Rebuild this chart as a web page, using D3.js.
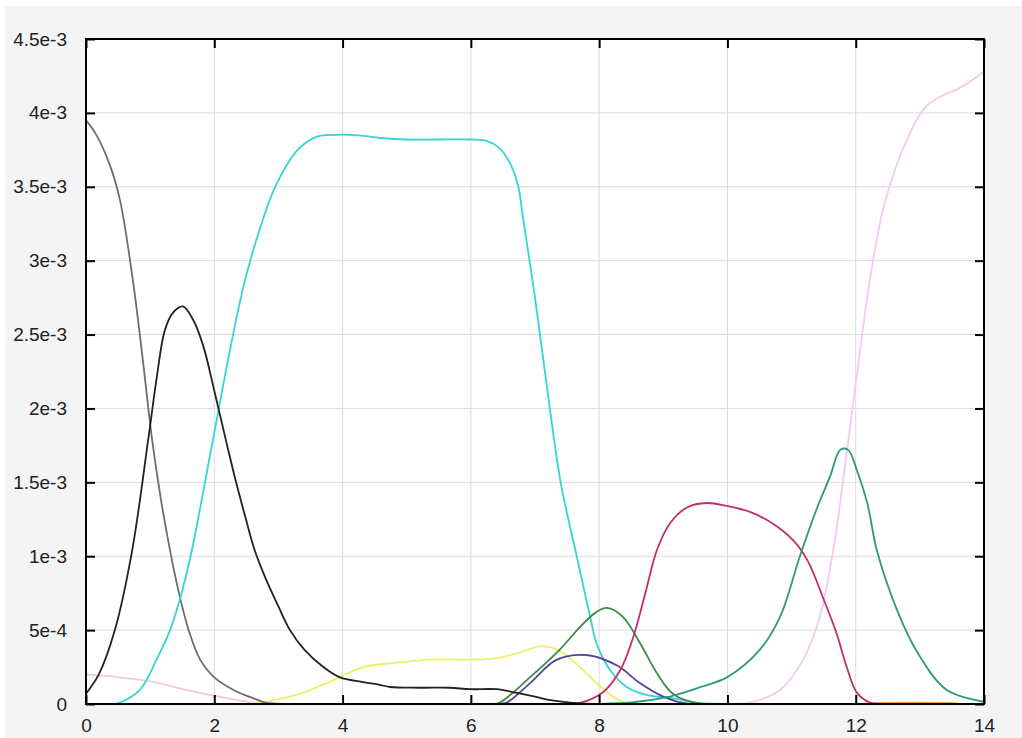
<!DOCTYPE html>
<html>
<head>
<meta charset="utf-8">
<script src="https://cdn.jsdelivr.net/npm/d3@7"></script>
<style>
  body { margin: 0; background: #fff; }
  svg { display: block; }
  text { font-family: "Liberation Sans", Arial, Helvetica, sans-serif; fill: #222; }
</style>
</head>
<body>
<svg></svg>
<script>
// values are in units of 1e-3
const xTicks = [0, 2, 4, 6, 8, 10, 12, 14];
const yTicks = [0, 0.5, 1, 1.5, 2, 2.5, 3, 3.5, 4, 4.5];
const yTickLabels = ["0", "5e-4", "1e-3", "1.5e-3", "2e-3", "2.5e-3", "3e-3", "3.5e-3", "4e-3", "4.5e-3"];

const salmonX = [0, 0.52, 1.04, 1.56, 2.07, 2.6, 3.0, 14];
const salmonY = [0.2, 0.18, 0.15, 0.095, 0.05, 0.01, 0, 0];

const grayX = [0, 0.15, 0.37, 0.53, 0.73, 0.88, 1.03, 1.17, 1.31, 1.45, 1.6, 1.78, 2.0, 2.3, 2.6, 2.8, 3.2, 14];
const grayY = [3.95, 3.86, 3.65, 3.41, 2.87, 2.35, 1.79, 1.38, 1.04, 0.75, 0.5, 0.3, 0.18, 0.095, 0.04, 0.01, 0, 0];

const blackX = [0, 0.2, 0.45, 0.72, 0.97, 1.1, 1.23, 1.36, 1.51, 1.67, 1.83, 2.0, 2.2, 2.34, 2.5, 2.63, 2.8, 3.0, 3.18, 3.4, 3.7, 3.96, 4.3, 4.58, 4.74, 5.2, 5.67, 5.99, 6.4, 6.72, 7.0, 7.19, 7.55, 8.0, 14];
const blackY = [0.07, 0.2, 0.5, 1.04, 1.79, 2.2, 2.53, 2.65, 2.69, 2.6, 2.42, 2.12, 1.75, 1.5, 1.24, 1.04, 0.85, 0.66, 0.5, 0.37, 0.25, 0.18, 0.15, 0.13, 0.115, 0.11, 0.11, 0.1, 0.1, 0.075, 0.05, 0.03, 0.01, 0, 0];

const cyanX = [0, 0.4, 0.53, 0.84, 1.1, 1.31, 1.49, 1.65, 1.98, 2.27, 2.48, 2.7, 2.95, 3.3, 3.6, 3.8, 4.2, 4.6, 5.0, 5.5, 6.0, 6.25, 6.45, 6.61, 6.74, 6.81, 7.0, 7.2, 7.4, 7.65, 7.86, 7.96, 8.17, 8.43, 8.75, 9.15, 9.5, 10, 14];
const cyanY = [0, 0, 0.01, 0.095, 0.3, 0.5, 0.75, 1.04, 1.79, 2.45, 2.87, 3.2, 3.5, 3.75, 3.84, 3.85, 3.85, 3.83, 3.82, 3.82, 3.82, 3.81, 3.76, 3.66, 3.5, 3.3, 2.75, 2.1, 1.5, 1.0, 0.59, 0.41, 0.23, 0.115, 0.06, 0.04, 0.01, 0, 0];

const yellowX = [0, 2.6, 2.76, 3.34, 3.85, 4.32, 4.85, 5.36, 5.99, 6.4, 6.77, 7.08, 7.34, 7.7, 7.96, 8.22, 8.5, 14];
const yellowY = [0, 0, 0.01, 0.07, 0.16, 0.25, 0.28, 0.3, 0.3, 0.31, 0.35, 0.39, 0.37, 0.25, 0.14, 0.05, 0, 0];

const greenX = [0, 6.3, 6.45, 6.92, 7.39, 7.7, 7.95, 8.12, 8.37, 8.64, 8.9, 9.15, 9.6, 14];
const greenY = [0, 0, 0.01, 0.18, 0.37, 0.52, 0.62, 0.65, 0.59, 0.41, 0.21, 0.07, 0, 0];

const purpleX = [0, 6.4, 6.56, 6.92, 7.34, 7.83, 8.28, 8.64, 9.0, 9.4, 14];
const purpleY = [0, 0, 0.01, 0.14, 0.3, 0.33, 0.26, 0.14, 0.05, 0, 0];

const magentaX = [0, 7.5, 7.7, 8.06, 8.33, 8.53, 8.72, 8.9, 9.1, 9.37, 9.68, 9.99, 10.35, 10.71, 11.02, 11.25, 11.49, 11.7, 11.86, 12.02, 12.22, 12.4, 14];
const magentaY = [0, 0, 0.007, 0.08, 0.23, 0.45, 0.75, 1.04, 1.22, 1.33, 1.36, 1.34, 1.3, 1.22, 1.11, 0.97, 0.72, 0.48, 0.25, 0.075, 0.01, 0, 0];

const tealX = [0, 8.5, 9.1, 9.62, 9.99, 10.51, 10.82, 11.13, 11.4, 11.6, 11.76, 11.88, 12.02, 12.18, 12.33, 12.64, 12.96, 13.42, 14];
const tealY = [0, 0.01, 0.05, 0.12, 0.18, 0.37, 0.59, 1.0, 1.33, 1.54, 1.72, 1.72, 1.58, 1.36, 1.04, 0.64, 0.35, 0.095, 0.015];

const pinkX = [0, 10.0, 10.35, 10.82, 11.18, 11.44, 11.65, 11.8, 11.95, 12.1, 12.25, 12.4, 12.54, 12.8, 13.05, 13.27, 13.63, 14];
const pinkY = [0, 0, 0.01, 0.095, 0.3, 0.59, 1.04, 1.5, 2.0, 2.5, 2.95, 3.3, 3.52, 3.82, 4.02, 4.1, 4.17, 4.28];

const orangeX = [0, 12.1, 12.3, 13.5, 13.7, 14];
const orangeY = [0, 0, 0.006, 0.006, 0, 0];

const series = [
  { name: "salmon", x: salmonX, y: salmonY, color: "#f2cccc" },
  { name: "orange", x: orangeX, y: orangeY, color: "#e8a040" },
  { name: "yellow", x: yellowX, y: yellowY, color: "#eeee6a" },
  { name: "pink", x: pinkX, y: pinkY, color: "#f0cbec" },
  { name: "gray", x: grayX, y: grayY, color: "#6e6e6e" },
  { name: "cyan", x: cyanX, y: cyanY, color: "#36d4d4" },
  { name: "purple", x: purpleX, y: purpleY, color: "#5b3f9c" },
  { name: "green", x: greenX, y: greenY, color: "#3f8a45" },
  { name: "magenta", x: magentaX, y: magentaY, color: "#c42d6c" },
  { name: "teal", x: tealX, y: tealY, color: "#2e9a7a" },
  { name: "black", x: blackX, y: blackY, color: "#222222" }
];

const width = 1022, height = 738;
const margin = { top: 39, right: 38, bottom: 34, left: 86 };

const svg = d3.select("svg")
  .attr("width", width)
  .attr("height", height);

// panel background
svg.append("rect")
  .attr("x", 5).attr("y", 6)
  .attr("width", width - 5).attr("height", height - 6)
  .attr("fill", "#f4f4f4");

const xScale = d3.scaleLinear()
  .domain([0, 14])
  .range([margin.left, width - margin.right]);

const yScale = d3.scaleLinear()
  .domain([0, 4.5])
  .range([height - margin.bottom, margin.top]);

svg.append("clipPath").attr("id", "plot-clip")
  .append("rect")
  .attr("x", margin.left).attr("y", margin.top)
  .attr("width", xScale(14) - xScale(0))
  .attr("height", yScale(0) - yScale(4.5));

// plot area
svg.append("rect")
  .attr("x", margin.left).attr("y", margin.top)
  .attr("width", xScale(14) - xScale(0))
  .attr("height", yScale(0) - yScale(4.5))
  .attr("fill", "#fff");

// grid
svg.append("g")
  .selectAll("line")
  .data(xTicks.slice(1, -1))
  .join("line")
  .attr("x1", d => xScale(d)).attr("x2", d => xScale(d))
  .attr("y1", yScale(0)).attr("y2", yScale(4.5))
  .attr("stroke", "#dcdcdc").attr("stroke-width", 1);

svg.append("g")
  .selectAll("line")
  .data(yTicks.slice(1, -1))
  .join("line")
  .attr("x1", xScale(0)).attr("x2", xScale(14))
  .attr("y1", d => yScale(d)).attr("y2", d => yScale(d))
  .attr("stroke", "#dcdcdc").attr("stroke-width", 1);

// lines
const line = d3.line()
  .x(d => xScale(d[0]))
  .y(d => yScale(Math.max(0, d[1])))
  .curve(d3.curveCatmullRom.alpha(0.5));

svg.append("g")
  .attr("clip-path", "url(#plot-clip)")
  .selectAll("path")
  .data(series)
  .join("path")
  .attr("fill", "none")
  .attr("stroke", d => d.color)
  .attr("stroke-width", 1.8)
  .attr("stroke-linejoin", "round")
  .attr("d", d => line(d.x.map((v, i) => [v, d.y[i]])));

// axes: inside ticks on all sides
const tickLen = 9;
const xAxisB = d3.axisBottom(xScale).tickValues(xTicks).tickSize(-tickLen).tickPadding(tickLen + 6).tickFormat(d3.format("d"));
const xAxisT = d3.axisTop(xScale).tickValues(xTicks).tickSize(-tickLen).tickFormat("");
const yAxisL = d3.axisLeft(yScale).tickValues(yTicks).tickSize(-tickLen).tickPadding(tickLen + 10).tickFormat((d, i) => yTickLabels[i]);
const yAxisR = d3.axisRight(yScale).tickValues(yTicks).tickSize(-tickLen).tickFormat("");

function styleAxis(g) {
  g.select(".domain").remove();
  g.selectAll(".tick line").attr("stroke", "#000").attr("stroke-width", 2);
  g.selectAll(".tick text")
    .attr("font-family", "'Liberation Sans', Arial, Helvetica, sans-serif")
    .attr("font-size", 19)
    .attr("fill", "#222");
}

svg.append("g").attr("transform", `translate(0,${yScale(0)})`).call(xAxisB).call(styleAxis);
svg.append("g").attr("transform", `translate(0,${yScale(4.5)})`).call(xAxisT).call(styleAxis);
svg.append("g").attr("transform", `translate(${xScale(0)},0)`).call(yAxisL).call(styleAxis);
svg.append("g").attr("transform", `translate(${xScale(14)},0)`).call(yAxisR).call(styleAxis);

// frame
svg.append("rect")
  .attr("x", xScale(0)).attr("y", yScale(4.5))
  .attr("width", xScale(14) - xScale(0))
  .attr("height", yScale(0) - yScale(4.5))
  .attr("fill", "none")
  .attr("stroke", "#000")
  .attr("stroke-width", 2);
</script>
</body>
</html>
